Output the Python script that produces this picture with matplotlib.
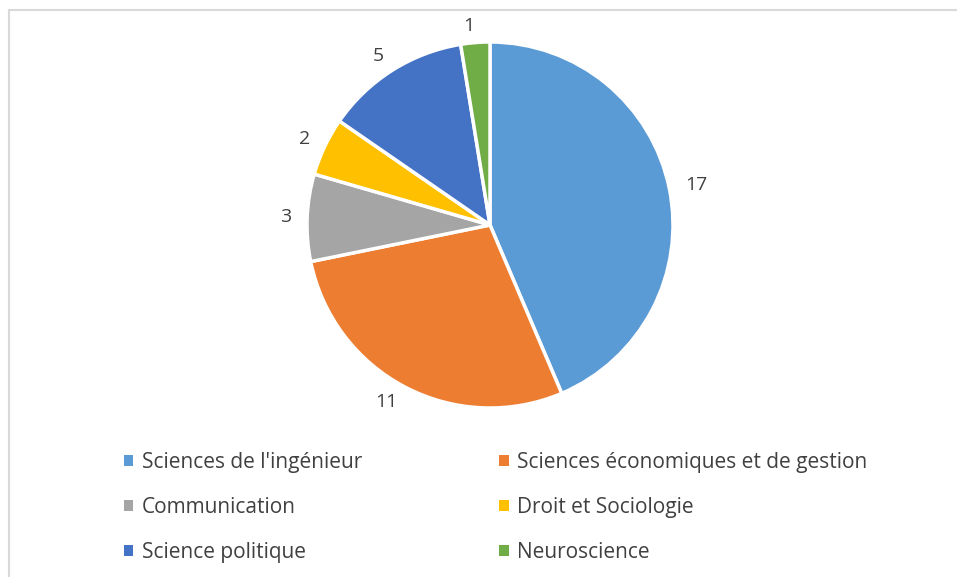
import matplotlib
matplotlib.use("Agg")
import matplotlib.pyplot as plt
from matplotlib.patches import Rectangle, Patch

categories = ["Sciences de l'ingénieur", "Sciences économiques et de gestion",
              "Communication", "Droit et Sociologie", "Science politique", "Neuroscience"]
values = [17, 11, 3, 2, 5, 1]
colors = ["#5B9BD5", "#ED7D31", "#A5A5A5", "#FFC000", "#4472C4", "#70AD47"]

plt.rcParams['font.family'] = ['Open Sans', 'DejaVu Sans']
W, H = 957, 577
fig = plt.figure(figsize=(W/100, H/100), dpi=100)

# chart border
fig.patches.append(Rectangle((9/W, -0.01), 1.1, (H-10)/H + 0.01, transform=fig.transFigure,
                             fill=False, edgecolor="#D9D9D9", linewidth=1.5))

cx, cy, r = 490, 225, 183
ax = fig.add_axes([(cx-r)/W, (H-cy-r)/H, 2*r/W, 2*r/H])
wedges, texts = ax.pie(values, labels=[str(v) for v in values], colors=colors,
                       startangle=90, counterclock=False, radius=1.0, labeldistance=1.09,
                       wedgeprops=dict(edgecolor="white", linewidth=2.5),
                       textprops=dict(color="#404040", fontsize=14))
for t in texts:
    t.set_clip_on(False)
ax.set_xlim(-1, 1)
ax.set_ylim(-1, 1)
ax.set_aspect('equal')
ax.axis('off')

order = [0, 2, 4, 1, 3, 5]
handles = [Patch(facecolor=colors[i], edgecolor='none') for i in order]
labels = [categories[i] for i in order]
fig.legend(handles, labels, ncol=2, loc='upper left', bbox_to_anchor=(124/W, 1 - 452/H),
           frameon=False, fontsize=15, handlelength=0.45, handleheight=0.45,
           handletextpad=0.4, columnspacing=6.6, labelspacing=1.15, labelcolor="#404040",
           borderaxespad=0, borderpad=0)

fig.savefig("out.png", dpi=100)
